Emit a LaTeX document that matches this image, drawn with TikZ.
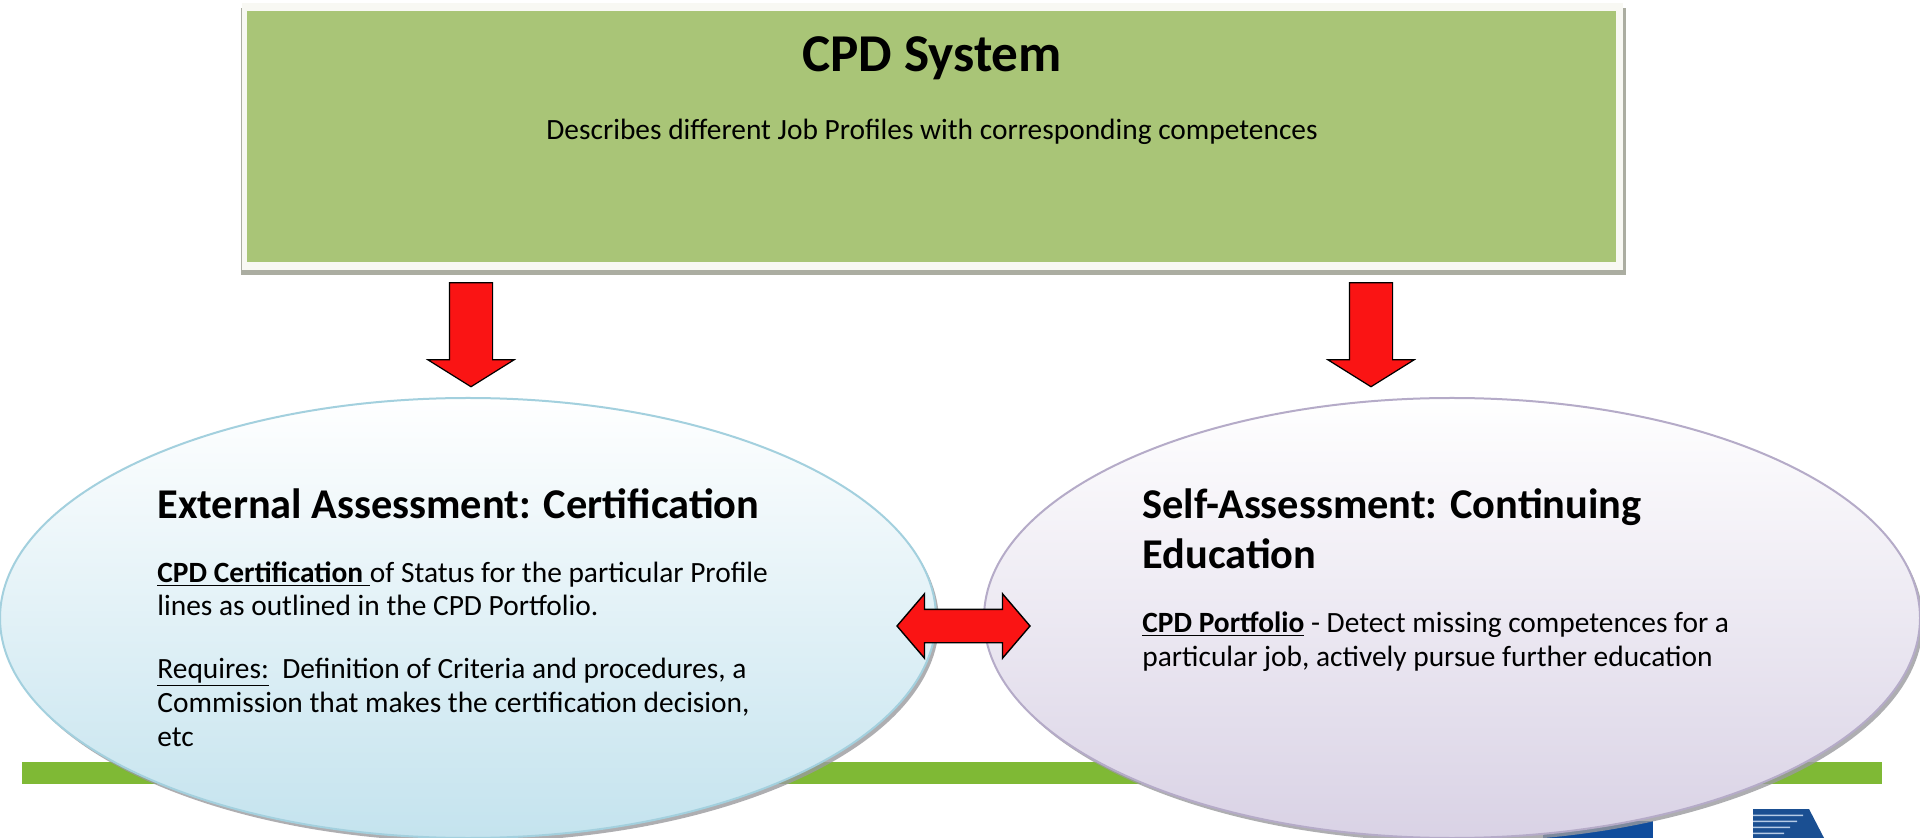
\documentclass[tikz,border=0pt]{standalone}
\usepackage{fontspec}
\setmainfont{Carlito}
\usetikzlibrary{shapes.geometric,shapes.arrows,shadings}
\definecolor{boxgreen}{HTML}{A9C577}
\definecolor{boxframe}{HTML}{F8F8F3}
\definecolor{boxshadow}{HTML}{ABADA1}
\definecolor{barGreen}{HTML}{7FB935}
\definecolor{logoBlue}{HTML}{0F4C9C}
\definecolor{logoStripe}{HTML}{1A4F92}
\definecolor{logoLight}{HTML}{B5CBE6}
\definecolor{blueEdge}{HTML}{A3D0DE}
\definecolor{blueEnd}{HTML}{C4E3EE}
\definecolor{purpleEdge}{HTML}{B5ABC8}
\definecolor{purpleEnd}{HTML}{D9D2E5}
\definecolor{ovalShadow}{HTML}{9A9A9E}
\definecolor{arrowRed}{HTML}{FA1414}
\tikzset{
  oval/.style={ellipse,minimum width=468pt,minimum height=220pt,inner sep=0pt,line width=1pt},
  ovalshade/.style={ellipse,minimum width=468pt,minimum height=220pt,inner sep=0pt,fill=ovalShadow,opacity=.8},
  downarrow/.style={single arrow,shape border rotate=270,fill=arrowRed,draw=black,line width=.6pt,
    minimum height=52pt,single arrow head extend=10.75pt,single arrow tip angle=116,inner ysep=0pt,inner xsep=10.5pt},
  bothways/.style={double arrow,fill=arrowRed,draw=black,line width=.7pt,
    minimum height=66.5pt,double arrow head extend=7.75pt,double arrow tip angle=99,inner xsep=0pt,inner ysep=8pt},
  hd/.style={anchor=base west,align=left,inner sep=0pt,font=\fontsize{21.2}{25}\selectfont\bfseries},
  bd/.style={anchor=base west,align=left,inner sep=0pt,font=\fontsize{14.7}{16.7}\selectfont},
}
\begin{document}
\begin{tikzpicture}[x=0.5pt,y=-0.5pt]
\useasboundingbox (0,0) rectangle (1920,838);
\fill[white] (0,0) rectangle (1920,838);
% footer
\node[fill=barGreen,minimum width=930pt,minimum height=11pt,inner sep=0pt] (bar) at (952,773) {};
\node[fill=logoBlue,minimum width=55pt,minimum height=9pt,inner sep=0pt] (flag) at (1598,830) {};
\fill[logoStripe] (1753,809) -- (1809,809) -- (1824,838) -- (1753,838) -- cycle;
\fill[logoLight] (1753,814.5) rectangle (1803,816) (1753,820.5) rectangle (1797,822) (1753,826.5) rectangle (1790,828) (1753,832.5) rectangle (1784,834);
% top box
\fill[boxshadow] (241,8) rectangle (1626,275);
\fill[boxframe] (242,3) rectangle (1623,270);
\node[fill=boxgreen,minimum width=684.5pt,minimum height=125.5pt,inner sep=0pt] (sys) at (931.5,136.5) {};
\node[anchor=base,inner sep=0pt,font=\fontsize{26.6}{28}\selectfont\bfseries] (systitle) at (932,72) {CPD System};
\node[anchor=base,inner sep=0pt,font=\fontsize{14.7}{16}\selectfont] (sysdesc) at (932,140) {Describes different Job Profiles with corresponding competences};
% ovals
\node[ovalshade] (extshadow) at (471,622) {};
\node[ovalshade] (selfshadow) at (1455,622) {};
\node[oval,draw=blueEdge,top color=white,bottom color=blueEnd] (ext) at (468,618) {};
\node[oval,draw=purpleEdge,top color=white,bottom color=purpleEnd] (self) at (1452,618) {};
% left text
\node[hd] (exthead) at (157,519) {External Assessment: Certification};
\node[bd] (extp1) at (157,616) {\underline{\textbf{CPD Certification }}of Status for the particular Profile\\lines as outlined in the CPD Portfolio.};
\node[bd,font=\fontsize{14.7}{17}\selectfont] (extp2) at (157,746) {\underline{Requires:}\ \ Definition of Criteria and procedures, a\\Commission that makes the certification decision,\\etc};
% right text
\node[hd] (selfhead) at (1142,569) {Self-Assessment: Continuing\\Education};
\node[bd] (selfp) at (1142,666) {\underline{\textbf{CPD Portfolio}} - Detect missing competences for a\\particular job, actively pursue further education};
% arrows
\node[downarrow] (a1) at (471,328) {};
\node[downarrow] (a2) at (1371,328) {};
\node[bothways] (a3) at (963.5,626) {};
\end{tikzpicture}
\end{document}
